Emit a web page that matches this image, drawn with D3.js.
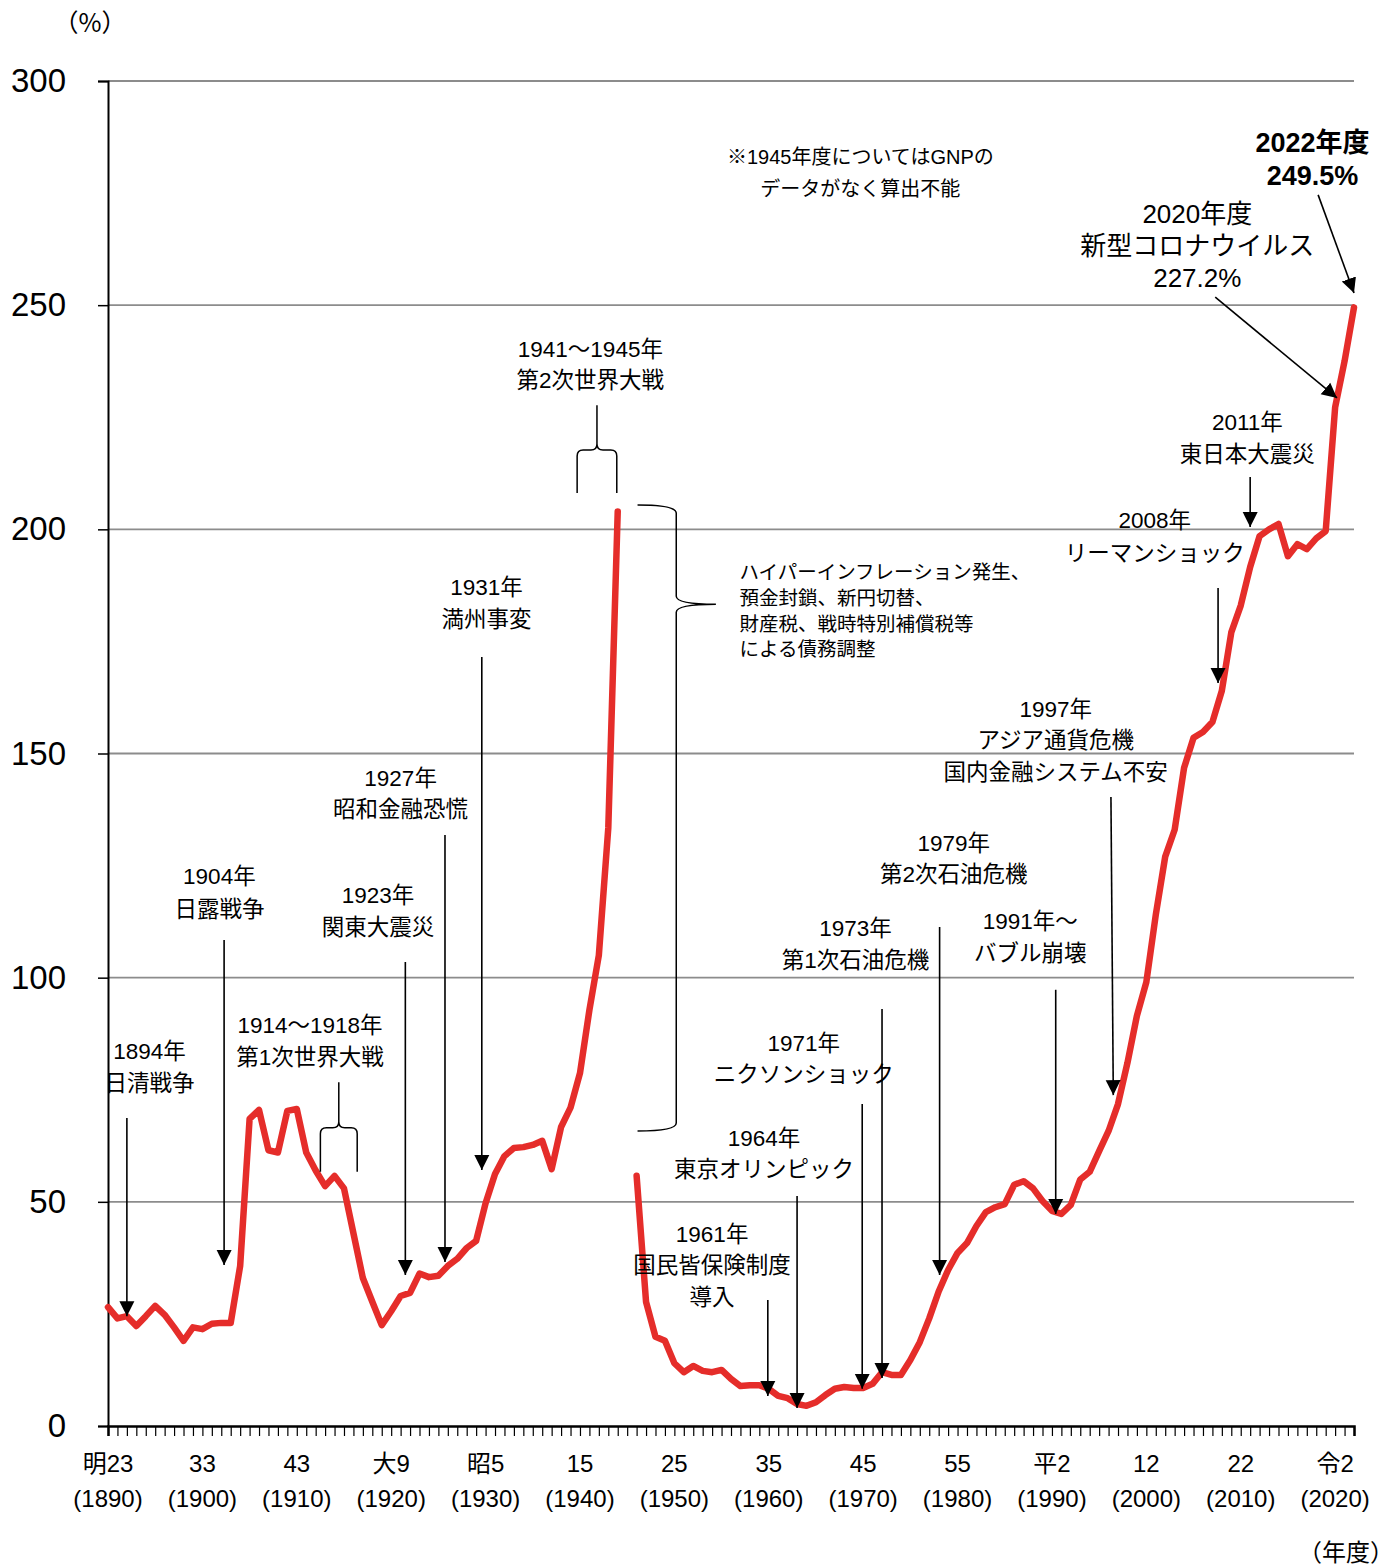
<!DOCTYPE html>
<html>
<head>
<meta charset="utf-8">
<script src="https://cdn.jsdelivr.net/npm/d3@7"></script>
<style>
  body { margin: 0; background: #fff; }
  svg text { font-family: "Liberation Sans", "Noto Sans CJK JP", sans-serif; fill: #000; }
</style>
</head>
<body>
<div id="chart"><svg class="diagram"></svg></div>
<script>
// 債務残高の対GDP比 (%) 1890-2022年度, 1945年度は算出不能
var firstYear = 1890;
var ratio = [
  26.5, 24, 24.5, 22.3, 24.5, 26.8, 24.8, 22, 19, 22,          // 1890-1899
  21.6, 22.8, 23, 23, 35.7, 68.5, 70.5, 61.5, 61, 70.3,        // 1900-1909
  70.7, 61, 57, 53.5, 55.8, 53, 43, 33, 27.7, 22.5,            // 1910-1919
  25.6, 29, 29.7, 34, 33.2, 33.5, 35.7, 37.3, 39.7, 41.3,      // 1920-1929
  49.7, 56.2, 60.2, 62, 62.2, 62.7, 63.6, 57.3, 66.7, 71,      // 1930-1939
  78.7, 92.8, 105, 133.4, 204, null, 55.8, 27.7, 19.9, 19,     // 1940-1949
  14, 12, 13.4, 12.3, 12, 12.5, 10.5, 8.9, 9.1, 9.1,           // 1950-1959
  8.3, 6.7, 6.2, 4.9, 4.5, 5.3, 6.9, 8.3, 8.7, 8.5,            // 1960-1969
  8.5, 9.4, 12, 11.4, 11.4, 14.7, 18.7, 24, 30, 34.8,          // 1970-1979
  38.6, 40.8, 44.6, 47.7, 48.8, 49.5, 53.8, 54.6, 53, 50.2,    // 1980-1989
  48, 47.3, 49.3, 55, 56.7, 61.3, 65.8, 71.8, 81, 91.5,        // 1990-1999
  99, 114, 127, 133, 146.8, 153.5, 154.8, 157, 164, 177,       // 2000-2009
  183, 191.6, 198.5, 200, 201.2, 194, 196.7, 195.6, 198, 199.6, // 2010-2019
  227.2, 237.5, 249.5                                           // 2020-2022
];

var yTicks = [0, 50, 100, 150, 200, 250, 300];
var eraTickYears = [1890, 1900, 1910, 1920, 1930, 1940, 1950, 1960, 1970, 1980, 1990, 2000, 2010, 2020];
var eraLabels = ["明23", "33", "43", "大9", "昭5", "15", "25", "35", "45", "55", "平2", "12", "22", "令2"];

// 矢印つきの出来事 arrow: [始点year, 始点値, 終点year, 終点値]
var events = [
  { lines: ["1894年", "日清戦争"], tx: 1894.4, ty: [83.6, 76.5], arrow: [1892, 68.7, 1892, 24.5] },
  { lines: ["1904年", "日露戦争"], tx: 1901.8, ty: [122.5, 115.3], arrow: [1902.3, 108.4, 1902.3, 35.9] },
  { lines: ["1923年", "関東大震災"], tx: 1918.6, ty: [118.4, 111.3], arrow: [1921.5, 103.5, 1921.5, 33.7] },
  { lines: ["1927年", "昭和金融恐慌"], tx: 1921, ty: [144.5, 137.4], arrow: [1925.7, 131.8, 1925.7, 36.6] },
  { lines: ["1931年", "満州事変"], tx: 1930.1, ty: [187.1, 180.0], arrow: [1929.6, 171.5, 1929.6, 57.1] },
  { lines: ["1961年", "国民皆保険制度", "導入"], tx: 1954, ty: [42.8, 35.7, 28.6], arrow: [1959.9, 28.1, 1959.9, 6.7] },
  { lines: ["1964年", "東京オリンピック"], tx: 1959.5, ty: [64.2, 57.3], arrow: [1963, 51.3, 1963, 4.0] },
  { lines: ["1971年", "ニクソンショック"], tx: 1963.7, ty: [85.4, 78.5], arrow: [1969.9, 71.8, 1969.9, 8.3] },
  { lines: ["1973年", "第1次石油危機"], tx: 1969.2, ty: [110.9, 103.9], arrow: [1972, 93, 1972, 10.7] },
  { lines: ["1979年", "第2次石油危機"], tx: 1979.6, ty: [130, 122.9], arrow: [1978.1, 111.3, 1978.1, 33.7] },
  { lines: ["1991年～", "バブル崩壊"], tx: 1987.7, ty: [112.6, 105.5], arrow: [1990.4, 97.3, 1990.4, 47.3] },
  { lines: ["1997年", "アジア通貨危機", "国内金融システム不安"], tx: 1990.4, ty: [159.9, 152.8, 145.7], arrow: [1996.25, 140.3, 1996.5, 73.8] },
  { lines: ["2008年", "リーマンショック"], tx: 2000.9, ty: [201.9, 194.7], arrow: [2007.6, 186.9, 2007.6, 165.7] },
  { lines: ["2011年", "東日本大震災"], tx: 2010.7, ty: [223.9, 216.6], arrow: [2011, 211.7, 2011, 200.5] },
  { lines: ["2020年度", "新型コロナウイルス", "227.2%"], tx: 2005.4, ty: [270.3, 263.2, 256.1], arrow: [2007.3, 251.8, 2020.2, 229.3], size: 26 },
  { lines: ["2022年度", "249.5%"], tx: 2017.6, ty: [286.2, 278.8], arrow: [2018.2, 274.6, 2022, 252.7], size: 27, bold: true }
];

var braceNotes = [
  { lines: ["1914～1918年", "第1次世界大戦"], tx: 1911.4, ty: [89.4, 82.3], brace: [1912.5, 1916.4, 56.7, 66.5, 76.7] },
  { lines: ["1941～1945年", "第2次世界大戦"], tx: 1941.1, ty: [240.2, 233.1], brace: [1939.7, 1943.9, 208.1, 217.7, 227.7] }
];

var hyperLines = ["ハイパーインフレーション発生、", "預金封鎖、新円切替、", "財産税、戦時特別補償税等", "による債務調整"];
var noteLines = ["※1945年度についてはGNPの", "データがなく算出不能"];

/***********************************************************************************************************/

var svg = d3.select("#chart svg").attr("width", 1400).attr("height", 1566);

var x = d3.scaleLinear().domain([1890, 2022]).range([108, 1354]);
var y = d3.scaleLinear().domain([0, 300]).range([1426, 81]);

var defs = svg.append("defs");
defs.append("marker").attr("id", "head")
  .attr("viewBox", "0 0 10 10").attr("refX", 10).attr("refY", 5)
  .attr("markerWidth", 15).attr("markerHeight", 17).attr("markerUnits", "userSpaceOnUse")
  .attr("orient", "auto")
  .append("path").attr("d", "M0,0 L10,5 L0,10 Z").attr("fill", "#000");

// grid
svg.append("g").selectAll("line").data(yTicks.filter(function(d){ return d > 0; }))
  .enter().append("line")
  .attr("x1", x(1890)).attr("x2", x(2022))
  .attr("y1", function(d){ return y(d); }).attr("y2", function(d){ return y(d); })
  .attr("stroke", "#8c8c8c").attr("stroke-width", 1.8);

// y axis
var yAxis = d3.axisLeft(y).tickValues(yTicks).tickSize(10).tickPadding(14);
var gy = svg.append("g").attr("transform", "translate(" + x(1890) + ",0)").call(yAxis);
gy.select(".domain").attr("stroke", "#000").attr("stroke-width", 2);
gy.selectAll(".tick line").attr("stroke", "#000").attr("stroke-width", 1.5);
gy.selectAll(".tick text").attr("font-size", 33).attr("x", -42).attr("text-anchor", "end")
  .style("font-family", "'Liberation Sans', sans-serif");

// x axis: minor ticks each year
var xAxis = d3.axisBottom(x).tickValues(d3.range(1890, 2023)).tickSize(10).tickFormat("");
var gx = svg.append("g").attr("transform", "translate(0," + y(0) + ")").call(xAxis);
gx.select(".domain").attr("stroke", "#000").attr("stroke-width", 2.5);
gx.selectAll(".tick line").attr("stroke", "#000").attr("stroke-width", 1.2);

var lab = svg.append("g").selectAll("g").data(eraTickYears).enter().append("g")
  .attr("transform", function(d){ return "translate(" + x(d) + "," + y(0) + ")"; });
lab.append("text").attr("y", 37).attr("text-anchor", "middle").attr("dominant-baseline", "central")
  .attr("font-size", 24).text(function(d, i){ return eraLabels[i]; });
lab.append("text").attr("y", 72).attr("text-anchor", "middle").attr("dominant-baseline", "central")
  .attr("font-size", 24).text(function(d){ return "(" + d + ")"; });

svg.append("text").attr("x", 90).attr("y", 21).attr("text-anchor", "middle")
  .attr("dominant-baseline", "central").attr("font-size", 25)
  .style("font-family", "'Noto Sans CJK JP', sans-serif").text("（%）");
svg.append("text").attr("x", 1346).attr("y", 1550).attr("text-anchor", "middle")
  .attr("dominant-baseline", "central").attr("font-size", 24)
  .style("font-family", "'Noto Sans CJK JP', sans-serif").text("（年度）");

// main line
var pts = ratio.map(function(v, i){ return {year: firstYear + i, v: v}; });
var line = d3.line().defined(function(d){ return d.v !== null; })
  .x(function(d){ return x(d.year); }).y(function(d){ return y(d.v); });
svg.append("path").datum(pts).attr("d", line)
  .attr("fill", "none").attr("stroke", "#e52d2a").attr("stroke-width", 6.5)
  .attr("stroke-linejoin", "round").attr("stroke-linecap", "round");

// text helper
function multiText(g, lines, tx, ty, size, bold, anchor) {
  lines.forEach(function(s, i){
    g.append("text").attr("x", x(tx)).attr("y", y(ty[i]))
      .attr("text-anchor", anchor || "middle").attr("dominant-baseline", "central")
      .attr("font-size", size).attr("font-weight", bold ? "bold" : "normal").text(s);
  });
}

var ann = svg.append("g");
events.forEach(function(e){
  multiText(ann, e.lines, e.tx, e.ty, e.size || 22.5, e.bold);
  ann.append("line")
    .attr("x1", x(e.arrow[0])).attr("y1", y(e.arrow[1]))
    .attr("x2", x(e.arrow[2])).attr("y2", y(e.arrow[3]))
    .attr("stroke", "#000").attr("stroke-width", 1.6).attr("marker-end", "url(#head)");
});

// braces opening downward
braceNotes.forEach(function(b){
  multiText(ann, b.lines, b.tx, b.ty, 22.5, false);
  var x0 = x(b.brace[0]), x1 = x(b.brace[1]), xm = (x0 + x1) / 2;
  var yb = y(b.brace[2]), ys = y(b.brace[3]), yt = y(b.brace[4]);
  var r = 6;
  var p = d3.path();
  p.moveTo(x0, yb);
  p.lineTo(x0, ys + r);
  p.quadraticCurveTo(x0, ys, x0 + r, ys);
  p.lineTo(xm - r, ys);
  p.quadraticCurveTo(xm, ys, xm, ys - r);
  p.lineTo(xm, yt);
  p.moveTo(xm, ys - r);
  p.quadraticCurveTo(xm, ys, xm + r, ys);
  p.lineTo(x1 - r, ys);
  p.quadraticCurveTo(x1, ys, x1, ys + r);
  p.lineTo(x1, yb);
  ann.append("path").attr("d", p.toString()).attr("fill", "none").attr("stroke", "#000").attr("stroke-width", 1.5);
});

// hyperinflation brace (opening left)
(function(){
  var xl = x(1946.1), xs = x(1950.2), xt = x(1954.4);
  var yt = y(205.4), ym = y(183.3), yb = y(65.8);
  var r = 8;
  var p = d3.path();
  p.moveTo(xl, yt);
  p.quadraticCurveTo(xs, yt, xs, yt + r);
  p.lineTo(xs, ym - r);
  p.quadraticCurveTo(xs, ym, xt, ym);
  p.moveTo(xt, ym);
  p.quadraticCurveTo(xs, ym, xs, ym + r);
  p.lineTo(xs, yb - r);
  p.quadraticCurveTo(xs, yb, xl, yb);
  ann.append("path").attr("d", p.toString()).attr("fill", "none").attr("stroke", "#000").attr("stroke-width", 1.5);
  multiText(ann, hyperLines, 1956.9, [190.5, 184.7, 178.9, 173.3], 19.5, false, "start");
})();

multiText(ann, noteLines, 1969.7, [283.1, 275.9], 20, false);
</script>
</body>
</html>
